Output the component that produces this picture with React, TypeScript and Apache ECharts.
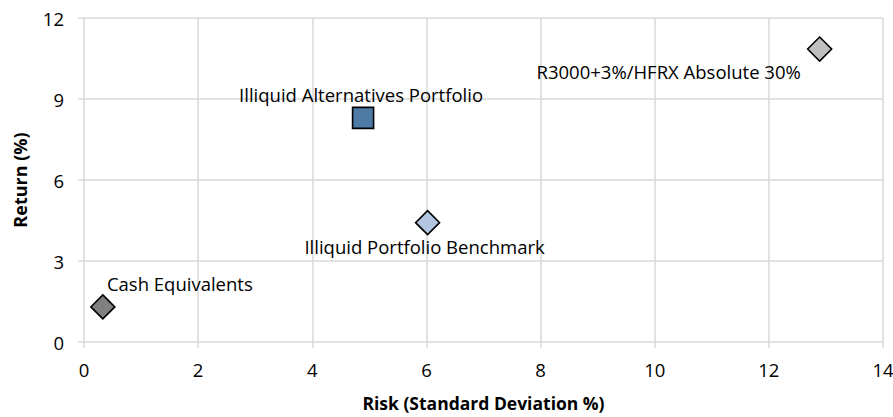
import React, { useEffect, useRef } from "react";
import * as echarts from "echarts";

// Risk / return of each portfolio
const names = [
  "Cash Equivalents",
  "Illiquid Alternatives Portfolio",
  "Illiquid Portfolio Benchmark",
  "R3000+3%/HFRX Absolute 30%",
];
const risk = [0.33, 4.89, 6.02, 12.89];
const ret = [1.3, 8.3, 4.42, 10.85];

const xTicks = [0, 2, 4, 6, 8, 10, 12, 14];
const yTicks = [0, 3, 6, 9, 12];

// Marker styling per point
const symbols = ["diamond", "rect", "diamond", "diamond"];
const sizes = [24, 21, 24, 24];
const fills = ["#808080", "#4e7aa6", "#b3c6e0", "#c0c0c0"];
const labelOffsets: [number, number][] = [
  [77, -23],
  [-2, -23],
  [-3, 24],
  [-151, 22],
];

const FONT = "'Open Sans', 'Noto Sans', sans-serif";
const TEXT = "#000";

export default function App() {
  const ref = useRef<HTMLDivElement>(null);

  useEffect(() => {
    document.body.style.margin = "0";
    if (!ref.current) return;
    const chart = echarts.init(ref.current, undefined, { renderer: "svg" });

    const series = names.map((name, i) => ({
      type: "scatter" as const,
      name,
      data: [[risk[i], ret[i]]],
      symbol: symbols[i],
      symbolSize: sizes[i],
      itemStyle: { color: fills[i], borderColor: "#000", borderWidth: 1.6, opacity: 1 },
      label: {
        show: true,
        formatter: name,
        position: "inside",
        offset: labelOffsets[i],
        color: TEXT,
        opacity: 1,
        fontSize: 18.5,
        fontFamily: FONT,
      },
      emphasis: { disabled: true },
    }));

    chart.setOption({
      animation: false,
      textStyle: { fontFamily: FONT },
      grid: {
        left: 84,
        right: 10,
        top: 18,
        bottom: 75,
        containLabel: false,
        outerBoundsMode: "none",
      },
      xAxis: {
        type: "value",
        min: xTicks[0],
        max: xTicks[xTicks.length - 1],
        interval: 2,
        name: "Risk (Standard Deviation %)",
        nameLocation: "middle",
        nameGap: 52,
        nameTextStyle: { fontWeight: "bold", fontSize: 17.5, color: TEXT, fontFamily: FONT },
        axisLine: { show: false },
        axisTick: { show: true, length: 6, lineStyle: { color: "#d9d9d9", width: 1.5 } },
        splitLine: { show: true, lineStyle: { color: "#d9d9d9", width: 1.5 } },
        axisLabel: { color: TEXT, fontSize: 18.5, margin: 18, fontFamily: FONT },
      },
      yAxis: {
        type: "value",
        min: yTicks[0],
        max: yTicks[yTicks.length - 1],
        interval: 3,
        name: "Return (%)",
        nameLocation: "middle",
        nameGap: 55,
        nameRotate: 90,
        nameTextStyle: {
          fontWeight: "bold",
          fontSize: 18,
          color: TEXT,
          fontFamily: FONT,
        },
        axisLine: { show: false },
        axisTick: { show: true, length: 6, lineStyle: { color: "#d9d9d9", width: 1.5 } },
        splitLine: { show: true, lineStyle: { color: "#d9d9d9", width: 1.5 } },
        axisLabel: { color: TEXT, fontSize: 18.5, margin: 20, fontFamily: FONT },
      },
      series,
    });

    return () => chart.dispose();
  }, []);

  return <div ref={ref} style={{ width: 893, height: 417 }} />;
}
